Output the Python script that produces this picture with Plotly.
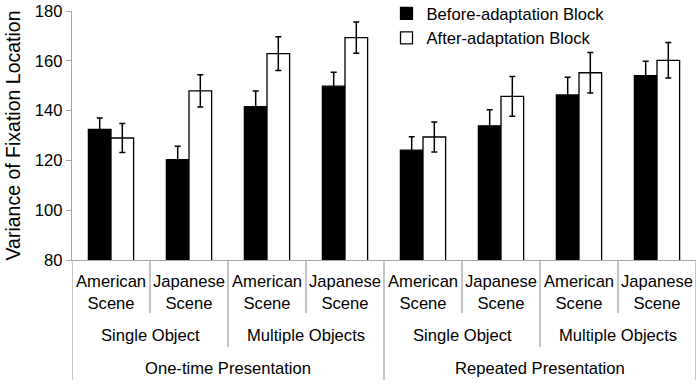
import plotly.graph_objects as go

# Data
scene_labels = ["American<br>Scene", "Japanese<br>Scene"] * 4
object_labels = ["Single Object", "Multiple Objects", "Single Object", "Multiple Objects"]
presentation_labels = ["One-time Presentation", "Repeated Presentation"]

before_vals = [132.5, 120.3, 141.6, 149.8, 124.1, 133.9, 146.3, 154.0]
before_err = [4.5, 5.4, 6.3, 5.6, 5.4, 6.4, 7.1, 5.8]
after_vals = [129.0, 147.9, 162.9, 169.3, 129.4, 145.7, 155.2, 160.2]
after_err = [5.8, 6.5, 6.8, 6.3, 6.0, 8.0, 8.1, 7.1]

series_names = ["Before-adaptation Block", "After-adaptation Block"]

xs = list(range(len(scene_labels)))
FONT = "Liberation Sans, Arial, sans-serif"
GRAY = "#a6a6a6"
FS = 16.6

fig = go.Figure()
fig.add_trace(go.Bar(
    x=xs, y=before_vals, name=series_names[0],
    marker=dict(color="black", line=dict(color="black", width=1.3)),
    error_y=dict(type="data", array=before_err, color="black", thickness=1.5, width=3),
))
fig.add_trace(go.Bar(
    x=xs, y=after_vals, name=series_names[1],
    marker=dict(color="white", line=dict(color="black", width=1.3)),
    error_y=dict(type="data", array=after_err, color="black", thickness=1.5, width=3),
))

annotations = []
for i, lab in enumerate(scene_labels):
    annotations.append(dict(x=i, y=-0.13, xref="x", yref="paper", text=lab,
                            showarrow=False, font=dict(size=FS, color="black", family=FONT),
                            xanchor="center", yanchor="middle"))
for j, lab in enumerate(object_labels):
    annotations.append(dict(x=2 * j + 0.5, y=-0.305, xref="x", yref="paper", text=lab,
                            showarrow=False, font=dict(size=FS, color="black", family=FONT),
                            xanchor="center", yanchor="middle"))
for k, lab in enumerate(presentation_labels):
    annotations.append(dict(x=4 * k + 1.5, y=-0.434, xref="x", yref="paper", text=lab,
                            showarrow=False, font=dict(size=FS, color="black", family=FONT),
                            xanchor="center", yanchor="middle"))

shapes = []
n = len(scene_labels)
for b in range(n + 1):
    xb = b - 0.5
    if b % 4 == 0:
        y1 = -0.482
    elif b % 2 == 0:
        y1 = -0.349
    else:
        y1 = -0.213
    shapes.append(dict(type="line", xref="x", yref="paper", x0=xb, x1=xb, y0=0, y1=y1,
                       line=dict(color=GRAY, width=1.3)))

fig.update_layout(
    width=700, height=384,
    margin=dict(l=72, r=4, t=11, b=124, autoexpand=False),
    paper_bgcolor="white", plot_bgcolor="white",
    barmode="group", bargap=0.42, bargroupgap=0,
    font=dict(family=FONT, size=FS, color="black"),
    showlegend=True,
    legend=dict(x=0.504, y=1.06, xanchor="left", yanchor="top",
                bgcolor="rgba(0,0,0,0)", font=dict(size=FS, family=FONT, color="black"),
                tracegroupgap=0),
    xaxis=dict(range=[-0.5, n - 0.5], showticklabels=False, ticks="",
               showline=True, linecolor=GRAY, linewidth=1.3, showgrid=False, zeroline=False),
    yaxis=dict(range=[80, 180], dtick=20, showline=True, linecolor=GRAY, linewidth=1.3,
               ticks="outside", ticklen=5, tickcolor=GRAY, tickwidth=1.3,
               showgrid=False, zeroline=False,
               tickfont=dict(size=FS, family=FONT, color="black"),
               title=dict(text="Variance of Fixation Location", standoff=9,
                          font=dict(size=19.5, family=FONT, color="black"))),
    annotations=annotations, shapes=shapes,
)

fig.write_html("out.html", config={"displayModeBar": False},
               post_script="document.body.style.margin='0';")
